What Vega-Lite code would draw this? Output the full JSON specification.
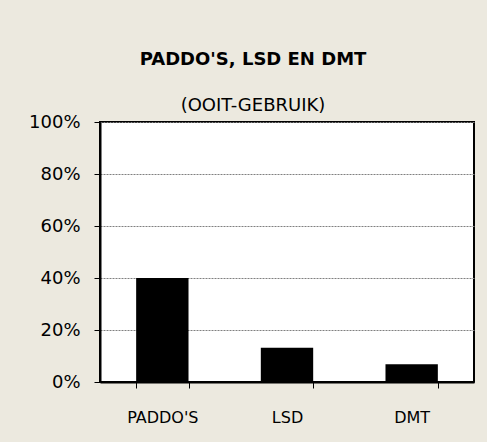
{
  "$schema": "https://vega.github.io/schema/vega-lite/v6.json",
  "autosize": {"type": "none"},
  "width": 374,
  "height": 260,
  "padding": {"left": 100, "top": 122, "right": 13, "bottom": 60},
  "background": "#ECE9DF",
  "title": {
    "text": "PADDO'S, LSD EN DMT",
    "subtitle": "(OOIT-GEBRUIK)",
    "anchor": "middle",
    "dx": -34,
    "offset": -2,
    "font": "DejaVu Sans",
    "fontSize": 18,
    "fontWeight": "bold",
    "color": "#000000",
    "subtitleFont": "DejaVu Sans",
    "subtitleFontSize": 18,
    "subtitleColor": "#000000",
    "subtitlePadding": 28
  },
  "config": {
    "view": {"stroke": "#000000", "strokeWidth": 2, "fill": "#FFFFFF"}
  },
  "data": {
    "values": [
      {"drug": "PADDO'S", "pct": 0.40},
      {"drug": "LSD", "pct": 0.132},
      {"drug": "DMT", "pct": 0.068}
    ]
  },
  "mark": {"type": "bar", "color": "#000000"},
  "encoding": {
    "x": {
      "field": "drug",
      "type": "nominal",
      "sort": null,
      "scale": {"paddingInner": 0.58, "paddingOuter": 0.29},
      "axis": {
        "title": null,
        "labelAngle": 0,
        "labelFont": "DejaVu Sans",
        "labelFontSize": 16,
        "labelColor": "#000000",
        "labelPadding": 21,
        "tickSize": 6,
        "tickColor": "#000000",
        "tickBand": "extent",
        "domainColor": "#000000",
        "domainWidth": 2
      }
    },
    "y": {
      "field": "pct",
      "type": "quantitative",
      "scale": {"domain": [0, 1]},
      "axis": {
        "title": null,
        "format": ".0%",
        "values": [0, 0.2, 0.4, 0.6, 0.8, 1],
        "labelFont": "DejaVu Sans",
        "labelFontSize": 18,
        "labelColor": "#000000",
        "labelPadding": 14,
        "tickSize": 6,
        "tickColor": "#000000",
        "domainColor": "#000000",
        "domainWidth": 2,
        "grid": true,
        "gridColor": "#808080",
        "gridDash": [2, 1],
        "gridWidth": 1
      }
    }
  }
}
